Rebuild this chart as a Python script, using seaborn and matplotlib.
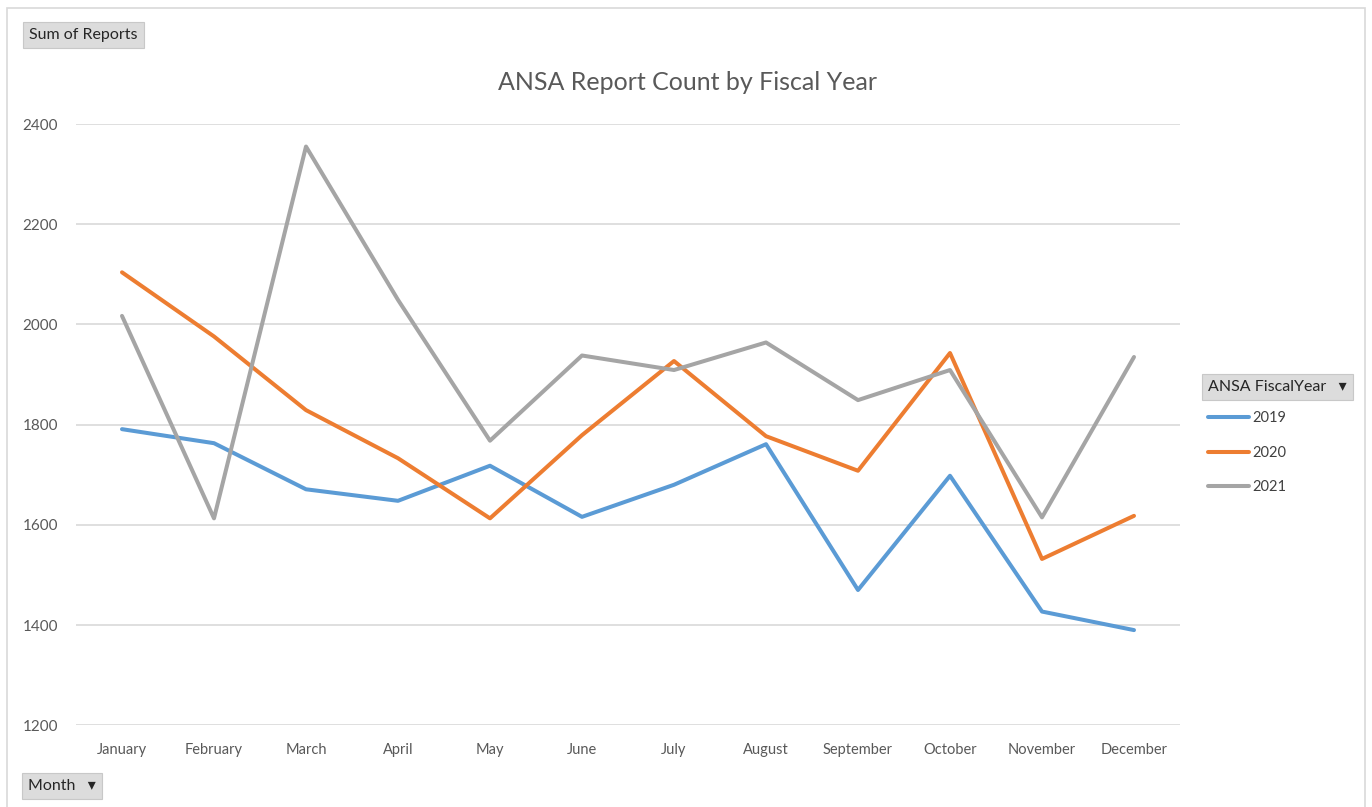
import matplotlib
matplotlib.use("Agg")
import matplotlib.pyplot as plt
from matplotlib.patches import Rectangle
import pandas as pd
import seaborn as sns

MONTHS = ["January", "February", "March", "April", "May", "June", "July",
          "August", "September", "October", "November", "December"]
FY2019 = [1791, 1763, 1671, 1648, 1718, 1616, 1680, 1761, 1470, 1698, 1427, 1390]
FY2020 = [2104, 1976, 1829, 1733, 1613, 1779, 1927, 1777, 1708, 1943, 1532, 1618]
FY2021 = [2017, 1613, 2355, 2049, 1768, 1938, 1909, 1964, 1849, 1909, 1615, 1935]
YEARS = ["2019", "2020", "2021"]
COLORS = ["#5B9BD5", "#ED7D31", "#A5A5A5"]
Y_TICKS = [1200, 1400, 1600, 1800, 2000, 2200, 2400]

TEXT = "#595959"


def main():
    sns.set_theme(style="white")
    plt.rcParams["font.family"] = ["Lato", "DejaVu Sans"]

    df = pd.DataFrame({
        "Month": MONTHS * 3,
        "Reports": FY2019 + FY2020 + FY2021,
        "Year": [y for y in YEARS for _ in MONTHS],
    })

    W, H = 1372, 807
    fig = plt.figure(figsize=(W / 100, H / 100), dpi=100)
    ax = fig.add_axes([76 / W, 1 - 725.3 / H, (1180 - 76) / W, (725.3 - 124) / H])

    sns.lineplot(data=df, x="Month", y="Reports", hue="Year", palette=COLORS,
                 sort=False, lw=2.9, ax=ax, solid_capstyle="round")

    ax.set_xlim(-0.5, 11.5)
    ax.set_ylim(1200, 2400)
    ax.set_yticks(Y_TICKS)
    ax.set_xlabel(""); ax.set_ylabel("")
    ax.grid(axis="y", color="#D9D9D9", lw=1.2)
    ax.set_axisbelow(True)
    for s in ax.spines.values():
        s.set_visible(False)
    ax.tick_params(axis="both", length=0, labelsize=10.5, labelcolor=TEXT)
    ax.tick_params(axis="y", pad=13, labelsize=11)
    ax.tick_params(axis="x", pad=13)

    fig.text(687 / W, 1 - 82 / H, "ANSA Report Count by Fiscal Year",
             ha="center", va="center", fontsize=18, color=TEXT)

    leg = ax.legend(loc="upper left", bbox_to_anchor=(1204 / W, 1 - 407 / H),
                    bbox_transform=fig.transFigure, frameon=False, fontsize=10.5,
                    handlelength=2.8, handletextpad=0.2, labelspacing=1.4,
                    borderpad=0.3, borderaxespad=0)
    for t in leg.get_texts():
        t.set_color("#404040")

    # pivot-chart field buttons
    button = dict(boxstyle="square,pad=0.4", fc="#DCDCDC", ec="#C8C8C8", lw=0.8)
    fig.text(29 / W, 1 - 35 / H, "Sum of Reports", ha="left", va="center",
             fontsize=11.5, color="#262626", bbox=button)
    fig.text(1208 / W, 1 - 387 / H, "ANSA FiscalYear   \u25BE", ha="left", va="center",
             fontsize=11.5, color="#262626", bbox=button)
    fig.text(28 / W, 1 - 786 / H, "Month   \u25BE", ha="left", va="center",
             fontsize=11.5, color="#262626", bbox=button)

    # chart area border
    fig.patches.append(Rectangle((7 / W, -0.02), (1365 - 7) / W, 1 - 8 / H + 0.02,
                                 transform=fig.transFigure, fill=False,
                                 ec="#D9D9D9", lw=1.2))

    fig.savefig("out.png", dpi=100)
    plt.close(fig)


if __name__ == "__main__":
    main()
